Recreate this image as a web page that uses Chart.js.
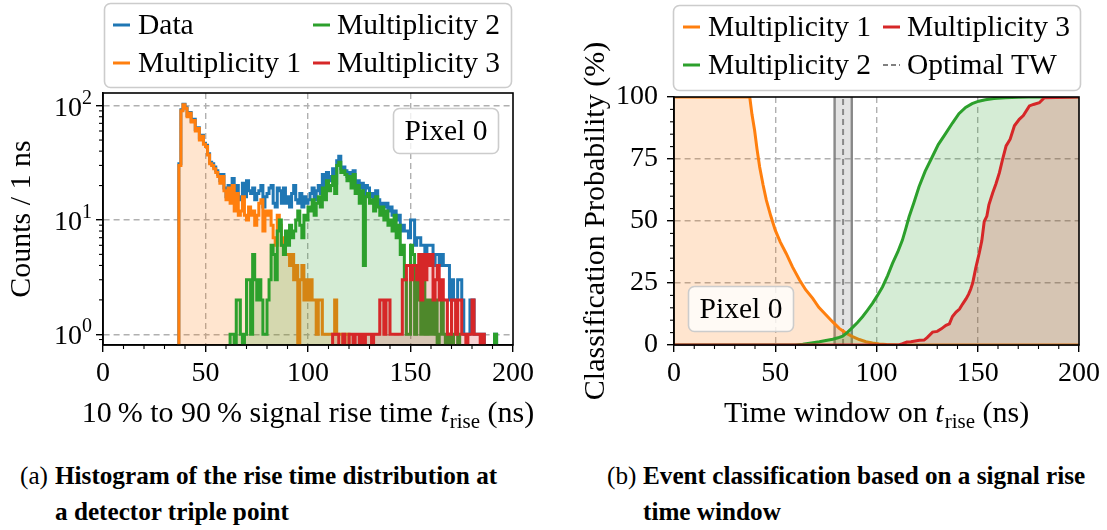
<!DOCTYPE html>
<html><head><meta charset="utf-8">
<script src="https://cdn.jsdelivr.net/npm/chart.js@4.4.0/dist/chart.umd.min.js"></script>
<style>
html,body{margin:0;padding:0;background:#fff;width:1107px;height:530px;overflow:hidden;}
#w1{position:absolute;left:0;top:0;width:550px;height:440px;}
#w2{position:absolute;left:560px;top:0;width:547px;height:440px;}
.cap{position:absolute;font-family:"Liberation Serif",serif;font-size:25.2px;line-height:36px;color:#000;white-space:nowrap;}
.cap .lab{display:inline-block;}
.cap b{font-weight:bold;}
.preload{position:absolute;left:-1000px;top:0;font-family:"Liberation Serif",serif;font-size:20px;}
</style></head><body>
<span class="preload">Aa</span><span class="preload" style="font-style:italic">Aa</span>
<div id="w1"><canvas id="c1" width="550" height="440"></canvas></div>
<div id="w2"><canvas id="c2" width="547" height="440"></canvas></div>
<div class="cap" style="left:20px;top:458px;"><span class="lab" style="width:35px">(a)</span><b>Histogram of the rise time distribution at</b></div>
<div class="cap" style="left:55px;top:494px;"><b>a detector triple point</b></div>
<div class="cap" style="left:607px;top:458px;"><span class="lab" style="width:36px">(b)</span><b>Event classification based on a signal rise</b></div>
<div class="cap" style="left:643px;top:494px;"><b>time window</b></div>
<script>
// ---------------- data: (a) histogram, 1 ns bins ----------------
const binStart = 37;
const dataCounts = [31,92,103,96,82,87,73,76,62,64,52,55,47,45,38,32,31,29,27,25,22,25,19,
  16,20,17,23,16,20,15,16,21,16,
  22,18,17,19,15,17,18,20,13,16,
  17,19,20,14,13,19,18,14,19,14,
  16,13,17,20,15,14,17,13,16,14,
  15,17,19,15,18,20,17,25,19,26,
  22,24,28,21,33,36,28,29,27,24,
  26,22,27,20,22,19,21,16,20,19,
  16,17,15,18,15,13,14,13,14,12,
  13,11,12,10,11,8,9,8,8,7,
  10,10,6,7,7,6,6,5,6,6,
  6,4,5,5,4,5,4,4,4,2,
  3,2,2,3,3,2,1,1,1,2,
  2,1,1,1,1,1,0,0,0,0,
  0,1,0];
const mult1Start = 37;
const mult1Counts = [30,90,102,95,80,86,72,74,60,63,50,54,46,44,37,31,30,28,26,24,21,24,18,
  15,19,14,20,12,17,11,12,16,11,
  10,13,11,12,9,11,14,15,8,12,
  11,12,9,7,6,11,9,6,7,5,
  5,4,5,3,4,0,3,4,2,3,
  2,3,2,2,1,2,2,1,1,1,
  1,1,1,2,1,1,1,0,1,1];
const mult2Start = 62;
const mult2Counts = [1,1,0,2,2,1,0,1,
  3,3,1,5,3,2,3,2,1,1,
  2,3,6,5,3,8,10,6,5,8,
  6,9,7,8,10,12,9,7,11,10,
  13,12,15,11,14,16,13,19,15,22,
  18,20,24,17,30,32,26,27,25,22,
  24,19,25,17,20,14,18,4,16,17,
  14,15,12,16,13,11,13,10,12,9,
  10,8,11,7,9,5,6,3,1,1,
  6,5,1,3,2,1,3,1,2,1,
  2,1,2,0,1,2,1,0,1,0,
  1,0,0,1,0,0,0,0,0,0,
  0,0,0,0,0,0,0,0,0,0,
  0,1,0];
const mult3Start = 112;
const mult3Counts = [1,1,1,0,0,1,0,0,
  1,1,0,1,1,0,1,0,1,1,
  1,0,1,1,1,2,2,1,2,2,
  1,1,1,1,1,1,3,3,4,4,
  3,4,4,3,5,2,5,3,5,4,
  5,2,3,4,2,3,2,2,1,1,
  2,2,1,2,2,1,1,0,1,1,
  2,1,1,1,0,1];
const xTickValues = [0, 50, 100, 150, 200];
const logTickValues = [1, 10, 100];
const probTickValues = [0, 25, 50, 75, 100];

// ---------------- data: (b) classification probability (%) ----------------
const m1Time = [0,37.4,38.5,39.8,41,42.3,44,45.6,47.8,50,52.5,55.4,58.5,62,65,68.5,71.5,75.1,78.5,81.6,85,88.2,91.5,94.8,98,101.3,105,111,200];
const m1Prob = [100,100,93,86.6,79,71.8,64.5,58.4,52,46.3,41.5,36.9,31.5,26.2,22.3,18.8,15.2,12.1,9.2,6.7,4.8,3.4,2.2,1.3,0.8,0.4,0.2,0,0];
const m2Time = [0,60,63.6,67,71.8,75,78.4,81,83.3,85.5,88.2,90.5,93.1,95.5,98,100.5,103,105.5,107.9,110.5,112.8,114.5,116.1,118.5,121,124,127.5,130.5,134.1,137.5,140.7,144,147.2,150.5,153.8,158,163.6,170,175.1,200];
const m2Prob = [0,0,0.3,0.7,1.3,1.8,2.3,2.9,3.6,5,7.1,9,11.4,14,16.8,20,23.5,28,32.9,37.5,42.3,47,51.7,57.5,63.8,70,75.8,80.8,85.2,89.5,93.3,95.8,97.3,98.3,98.9,99.4,99.7,99.9,100,100];
const m3Time = [0,111,112.9,115,117,121.2,123.5,125,127.7,130,132,134.3,136,137.5,139.3,141,142.5,144.2,145.5,146.5,147.5,149,150.8,152,153.2,154.5,155.5,157.4,159,160.7,162.3,164,166,168.1,170.5,172.5,175.5,177.5,180.4,182.9,200];
const m3Prob = [0,0,0.5,1.2,1.3,1.9,2.0,3.0,5.2,5.5,6.5,7.9,8.5,11.5,13.3,14.5,16.5,18.6,20.5,22.5,25,31,37.3,42,49.8,52,56.5,61.4,65,69.5,75,80.3,83,88.4,91,92.5,96.4,97,97.7,99.7,100];
const optimalTW = [79.3, 83.5, 87.8]; // lower edge, optimum, upper edge (ns)

// ---------------- helpers ----------------
const FONT = '"Liberation Serif", serif';
const C_BLUE='#1f77b4', C_ORANGE='#ff7f0e', C_GREEN='#2ca02c', C_RED='#d62728';
function rgba(hex,a){const n=parseInt(hex.slice(1),16);return `rgba(${n>>16},${(n>>8)&255},${n&255},${a})`;}
const FLOOR = 0.3; // empty bins drawn below the log-axis minimum
function histPoints(start, counts){
  const pts=[{x:start,y:FLOOR}];
  counts.forEach((c,i)=>{const y=c>0?c:FLOOR;pts.push({x:start+i,y:y},{x:start+i+1,y:y});});
  pts.push({x:start+counts.length,y:FLOOR});
  return pts;
}
function curve(t,p){return t.map((v,i)=>({x:v,y:p[i]}));}
function line(ctx,x1,y1,x2,y2){ctx.beginPath();ctx.moveTo(x1,y1);ctx.lineTo(x2,y2);ctx.stroke();}
function rrect(ctx,x,y,w,h,r){ctx.beginPath();ctx.moveTo(x+r,y);ctx.arcTo(x+w,y,x+w,y+h,r);ctx.arcTo(x+w,y+h,x,y+h,r);ctx.arcTo(x,y+h,x,y,r);ctx.arcTo(x,y,x+w,y,r);ctx.closePath();}
function drawBox(ctx,x,y,w,h){rrect(ctx,x,y,w,h,6);ctx.fillStyle='rgba(255,255,255,0.8)';ctx.fill();ctx.strokeStyle='#cccccc';ctx.lineWidth=1.6;ctx.stroke();}
function drawLegend(ctx,box,items){
  ctx.save();
  drawBox(ctx,box.x,box.y,box.w,box.h);
  items.forEach(it=>{
    ctx.strokeStyle=it.color;ctx.lineWidth=it.dash?2.2:3;ctx.setLineDash(it.dash||[]);
    line(ctx,it.hx,it.y,it.hx+17,it.y);ctx.setLineDash([]);
    ctx.fillStyle='#000';ctx.font=`29.5px ${FONT}`;ctx.textAlign='left';ctx.textBaseline='middle';
    ctx.fillText(it.label,it.tx,it.y+1);
  });
  ctx.restore();
}
function drawRichTitle(ctx,cx,baseY,pre,post,size){
  const big=`${size}px ${FONT}`,ital=`italic ${size}px ${FONT}`,sub=`${Math.round(size*0.7)}px ${FONT}`;
  ctx.font=big;const w1=ctx.measureText(pre).width;
  ctx.font=ital;const w2=ctx.measureText('t').width+1;
  ctx.font=sub;const w3=ctx.measureText('rise').width;
  ctx.font=big;const w4=ctx.measureText(post).width;
  let x=cx-(w1+w2+w3+w4)/2;
  ctx.textAlign='left';ctx.textBaseline='alphabetic';ctx.fillStyle='#000';
  ctx.font=big;ctx.fillText(pre,x,baseY);x+=w1;
  ctx.font=ital;ctx.fillText('t',x,baseY);x+=w2;
  ctx.font=sub;ctx.fillText('rise',x,baseY+6);x+=w3;
  ctx.font=big;ctx.fillText(post,x,baseY);
}
function drawYTitle(ctx,x,y,text,size){
  ctx.save();ctx.translate(x,y);ctx.rotate(-Math.PI/2);
  ctx.font=`${size}px ${FONT}`;ctx.fillStyle='#000';ctx.textAlign='center';ctx.textBaseline='middle';
  ctx.fillText(text,0,0);ctx.restore();
}
function drawFrame(ctx,a){ctx.save();ctx.strokeStyle='#000';ctx.lineWidth=1.6;ctx.strokeRect(a.left,a.top,a.right-a.left,a.bottom-a.top);ctx.restore();}
const gridColor = (edges)=>(c)=> (c.tick && edges.includes(c.tick.value)) ? 'rgba(0,0,0,0)' : '#b0b0b0';

function drawAll(){
const tickFont = {family:FONT,size:28};
Chart.defaults.font.family = FONT;
Chart.defaults.color = '#000';

// ---------------- chart (a) ----------------
const decorA = {id:'decorA', afterDraw(chart){
  const {ctx,chartArea:a,scales:{x,y}}=chart;
  ctx.save();ctx.strokeStyle='#000';ctx.lineWidth=1.1;
  for(let v=0;v<=200;v+=10){if(v%50===0)continue;const px=x.getPixelForValue(v);line(ctx,px,a.bottom,px,a.bottom+4);}
  for(let k=-1;k<=2;k++)for(let m=2;m<=9;m++){const v=m*Math.pow(10,k);if(v<y.min||v>y.max)continue;const py=y.getPixelForValue(v);line(ctx,a.left,py,a.left-4,py);}
  ctx.restore();
  drawFrame(ctx,a);
  ctx.save();ctx.fillStyle='#000';ctx.textBaseline='alphabetic';ctx.textAlign='left';
  logTickValues.forEach(v=>{
    const py=y.getPixelForValue(v);const e=String(Math.round(Math.log10(v)));
    ctx.font=`28px ${FONT}`;const w1=ctx.measureText('10').width;
    ctx.font=`20px ${FONT}`;const w2=ctx.measureText(e).width;
    const xe=a.left-11;const base=py+10;
    ctx.font=`28px ${FONT}`;ctx.fillText('10',xe-w2-w1,base);
    ctx.font=`20px ${FONT}`;ctx.fillText(e,xe-w2,base-12);
  });
  ctx.restore();
  ctx.save();
  drawRichTitle(ctx,(a.left+a.right)/2,422,'10\u2009% to 90\u2009% signal rise time ',' (ns)',30);
  drawYTitle(ctx,22,(a.top+a.bottom)/2,'Counts / 1 ns',30);
  ctx.restore();
  drawLegend(ctx,{x:104.5,y:3.5,w:407,h:84},[
    {label:'Data',color:C_BLUE,hx:113,tx:138,y:25},
    {label:'Multiplicity 1',color:C_ORANGE,hx:113,tx:138,y:63},
    {label:'Multiplicity 2',color:C_GREEN,hx:313,tx:337,y:25},
    {label:'Multiplicity 3',color:C_RED,hx:313,tx:337,y:63}]);
  ctx.save();drawBox(ctx,393.5,108.5,105,45);
  ctx.fillStyle='#000';ctx.font=`29.5px ${FONT}`;ctx.textAlign='center';ctx.textBaseline='middle';ctx.fillText('Pixel 0',446,132);
  ctx.restore();
}};

const histDs = (label,start,counts,color,order,filled)=>({
  label, data:histPoints(start,counts), borderColor:color, borderWidth:3, pointRadius:0,
  fill: filled?'start':false, backgroundColor: rgba(color,0.2), order, tension:0, borderJoinStyle:'miter'
});

new Chart(document.getElementById('c1'),{
  type:'line',
  data:{datasets:[
    histDs('Data',binStart,dataCounts,C_BLUE,3,false),
    histDs('Multiplicity 1',mult1Start,mult1Counts,C_ORANGE,2,true),
    histDs('Multiplicity 2',mult2Start,mult2Counts,C_GREEN,1,true),
    histDs('Multiplicity 3',mult3Start,mult3Counts,C_RED,0,true)]},
  options:{
    responsive:false,animation:false,events:[],
    layout:{padding:{left:0,top:93,right:37,bottom:0}},
    plugins:{legend:{display:false},tooltip:{enabled:false}},
    scales:{
      x:{type:'linear',min:0,max:200,
        afterBuildTicks:s=>{s.ticks=xTickValues.map(v=>({value:v}));},
        afterFit:s=>{s.height=95;},
        ticks:{font:tickFont,color:'#000',padding:5,maxRotation:0,autoSkip:false,callback:v=>String(v)},
        grid:{color:gridColor([0,200]),lineWidth:1.4,tickLength:7,tickWidth:1.4,tickColor:'#000'},
        border:{display:true,color:'#000',width:1.6,dash:[6,4]}},
      y:{type:'logarithmic',min:0.806,max:129,
        afterBuildTicks:s=>{s.ticks=logTickValues.map(v=>({value:v}));},
        afterFit:s=>{s.width=103;},
        ticks:{display:false},
        grid:{color:'#b0b0b0',lineWidth:1.4,tickLength:7,tickWidth:1.4,tickColor:'#000'},
        border:{display:true,color:'#000',width:1.6,dash:[6,4]}}
    }
  },
  plugins:[decorA]
});

// ---------------- chart (b) ----------------
const decorB = {id:'decorB', afterDraw(chart){
  const {ctx,chartArea:a,scales:{x,y}}=chart;
  ctx.save();ctx.strokeStyle='#000';ctx.lineWidth=1.1;
  for(let v=0;v<=200;v+=10){if(v%50===0)continue;const px=x.getPixelForValue(v);line(ctx,px,a.bottom,px,a.bottom+4);}
  for(let v=0;v<=100;v+=5){if(v%25===0)continue;const py=y.getPixelForValue(v);line(ctx,a.left,py,a.left-4,py);}
  ctx.restore();
  drawFrame(ctx,a);
  ctx.save();
  drawRichTitle(ctx,(a.left+a.right)/2,422,'Time window on ',' (ns)',30);
  drawYTitle(ctx,36,(a.top+a.bottom)/2,'Classification Probability (%)',30);
  ctx.restore();
  drawLegend(ctx,{x:113.5,y:5.5,w:407,h:85},[
    {label:'Multiplicity 1',color:C_ORANGE,hx:123,tx:148,y:27},
    {label:'Multiplicity 2',color:C_GREEN,hx:123,tx:148,y:65},
    {label:'Multiplicity 3',color:C_RED,hx:323,tx:347,y:27},
    {label:'Optimal TW',color:'#808080',dash:[5,3],hx:323,tx:347,y:65}]);
  ctx.save();drawBox(ctx,128.5,286.5,105,45);
  ctx.fillStyle='#000';ctx.font=`29.5px ${FONT}`;ctx.textAlign='center';ctx.textBaseline='middle';ctx.fillText('Pixel 0',181,310);
  ctx.restore();
}};

const probDs=(label,t,p,color,order)=>({label,data:curve(t,p),borderColor:color,borderWidth:3,pointRadius:0,
  fill:'origin',backgroundColor:rgba(color,0.2),order,tension:0});

new Chart(document.getElementById('c2'),{
  type:'line',
  data:{datasets:[
    probDs('Multiplicity 1',m1Time,m1Prob,C_ORANGE,2),
    probDs('Multiplicity 2',m2Time,m2Prob,C_GREEN,1),
    probDs('Multiplicity 3',m3Time,m3Prob,C_RED,0),
    {label:'TW band',data:[{x:optimalTW[0],y:100},{x:optimalTW[2],y:100}],borderWidth:0,pointRadius:0,fill:'origin',backgroundColor:'rgba(128,128,128,0.22)',order:6},
    {label:'TW low',data:[{x:optimalTW[0],y:0},{x:optimalTW[0],y:100}],borderColor:'rgba(110,110,110,0.8)',borderWidth:2.4,pointRadius:0,fill:false,order:5},
    {label:'TW high',data:[{x:optimalTW[2],y:0},{x:optimalTW[2],y:100}],borderColor:'rgba(110,110,110,0.8)',borderWidth:2.4,pointRadius:0,fill:false,order:5},
    {label:'Optimal TW',data:[{x:optimalTW[1],y:0},{x:optimalTW[1],y:100}],borderColor:'rgba(128,128,128,0.9)',borderWidth:2,borderDash:[6,4],pointRadius:0,fill:false,order:4}
  ]},
  options:{
    responsive:false,animation:false,events:[],
    layout:{padding:{left:0,top:97,right:28,bottom:0}},
    plugins:{legend:{display:false},tooltip:{enabled:false}},
    scales:{
      x:{type:'linear',min:0,max:200,
        afterBuildTicks:s=>{s.ticks=xTickValues.map(v=>({value:v}));},
        afterFit:s=>{s.height=95;},
        ticks:{font:tickFont,color:'#000',padding:5,maxRotation:0,autoSkip:false,callback:v=>String(v)},
        grid:{color:gridColor([0,200]),lineWidth:1.4,tickLength:7,tickWidth:1.4,tickColor:'#000'},
        border:{display:true,color:'#000',width:1.6,dash:[6,4]}},
      y:{type:'linear',min:0,max:100,
        afterBuildTicks:s=>{s.ticks=probTickValues.map(v=>({value:v}));},
        afterFit:s=>{s.width=114;},
        ticks:{font:tickFont,color:'#000',padding:9,callback:v=>String(v)},
        grid:{color:gridColor([0,100]),lineWidth:1.4,tickLength:7,tickWidth:1.4,tickColor:'#000'},
        border:{display:true,color:'#000',width:1.6,dash:[6,4]}}
    }
  },
  plugins:[decorB]
});
}

let drawn=false;
function go(){if(drawn)return;drawn=true;drawAll();}
if(document.fonts && document.fonts.load){
  Promise.all(['28px "Liberation Serif"','italic 30px "Liberation Serif"','bold 25px "Liberation Serif"'].map(f=>document.fonts.load(f)))
    .then(go,go);
  setTimeout(go,1500);
}else{go();}
</script>
</body></html>
